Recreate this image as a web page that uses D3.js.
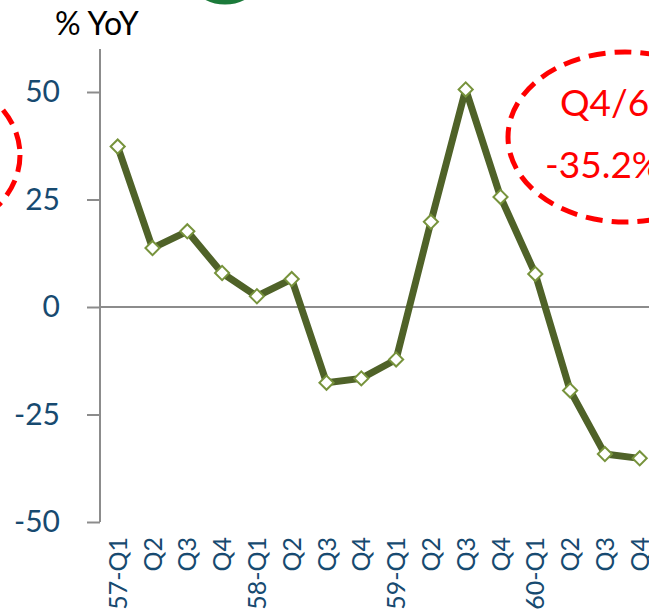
<!DOCTYPE html>
<html>
<head>
<meta charset="utf-8">
<script src="https://cdn.jsdelivr.net/npm/d3@7"></script>
<style>
  body { margin: 0; background: #fff; }
  svg { display: block; font-family: Lato, "DejaVu Sans", sans-serif; }
</style>
</head>
<body>
<div id="chart"></div>
<script>
const quarters = ['57-Q1', 'Q2', 'Q3', 'Q4', '58-Q1', 'Q2 ', 'Q3 ', 'Q4 ',
                  '59-Q1', 'Q2  ', 'Q3  ', 'Q4  ', '60-Q1', 'Q2   ', 'Q3   ', 'Q4   '];
const yoy = [37.3, 13.7, 17.6, 7.9, 2.5, 6.5, -17.6, -16.6,
             -12.2, 19.8, 50.6, 25.6, 7.7, -19.4, -34.2, -35.2];
const yTicks = [-50, -25, 0, 25, 50];
const calloutLines = ['Q4/60', '-35.2%'];

const width = 649, height = 611;

const svg = d3.select('#chart').append('svg')
  .attr('width', width)
  .attr('height', height);

const x = d3.scalePoint()
  .domain(quarters)
  .range([117.7, 639.7]);

const y = d3.scaleLinear()
  .domain([-50, 50])
  .range([522, 92]);

// green circle peeking in at the top
svg.append('ellipse')
  .attr('cx', 225).attr('cy', -42)
  .attr('rx', 42).attr('ry', 44)
  .attr('fill', 'none')
  .attr('stroke', '#1b7a3a')
  .attr('stroke-width', 5);

// y axis
const yAxis = svg.append('g')
  .attr('transform', 'translate(100,0)')
  .call(d3.axisLeft(y).tickValues(yTicks).tickFormat(d => String(d))
    .tickSize(13).tickPadding(27).tickSizeOuter(0));
yAxis.select('.domain').remove();
yAxis.selectAll('.tick line').attr('stroke', '#8c8c8c').attr('stroke-width', 2);
yAxis.selectAll('.tick text')
  .attr('fill', '#174a70')
  .style('font-size', '30px')
  .style('font-family', 'Lato, "DejaVu Sans", sans-serif');

svg.append('line')
  .attr('x1', 100).attr('x2', 100)
  .attr('y1', 49).attr('y2', y(-50))
  .attr('stroke', '#8c8c8c').attr('stroke-width', 2);

// zero line
svg.append('line')
  .attr('x1', 100).attr('x2', width)
  .attr('y1', y(0)).attr('y2', y(0))
  .attr('stroke', '#8c8c8c').attr('stroke-width', 2);

// x labels, rotated
svg.append('g').selectAll('text')
  .data(quarters)
  .join('text')
  .attr('transform', d => `translate(${x(d)},537) rotate(-90)`)
  .attr('text-anchor', 'end')
  .attr('dy', '0.36em')
  .attr('fill', '#174a70')
  .style('font-size', '25px')
  .text(d => d.trim());

// title
svg.append('text')
  .attr('x', 55).attr('y', 35)
  .attr('fill', '#000')
  .style('font-size', '32px')
  .text('% YoY');

// line
const line = d3.line()
  .x((d, i) => x(quarters[i]))
  .y(d => y(d));

svg.append('path')
  .datum(yoy)
  .attr('d', line)
  .attr('fill', 'none')
  .attr('stroke', '#4f6228')
  .attr('stroke-width', 7)
  .attr('stroke-linejoin', 'round');

svg.append('g').selectAll('path')
  .data(yoy)
  .join('path')
  .attr('d', d3.symbol(d3.symbolSquare, 100)())
  .attr('transform', (d, i) => `translate(${x(quarters[i])},${y(d)}) rotate(45)`)
  .attr('fill', '#fff')
  .attr('stroke', '#77933c')
  .attr('stroke-width', 2);

// red dashed callouts
svg.append('ellipse')
  .attr('cx', -92).attr('cy', 155)
  .attr('rx', 112).attr('ry', 85)
  .attr('fill', 'none')
  .attr('stroke', '#ff0000')
  .attr('stroke-width', 5)
  .attr('stroke-dasharray', '17 9');

svg.append('ellipse')
  .attr('cx', 625).attr('cy', 137)
  .attr('rx', 117).attr('ry', 85)
  .attr('fill', 'none')
  .attr('stroke', '#ff0000')
  .attr('stroke-width', 5)
  .attr('stroke-dasharray', '17 9');

svg.append('g').selectAll('text')
  .data(calloutLines)
  .join('text')
  .attr('x', (d, i) => i === 0 ? 560 : 545)
  .attr('y', (d, i) => i === 0 ? 116 : 178)
  .attr('fill', '#ff0000')
  .style('font-size', '37px')
  .text(d => d);
</script>
</body>
</html>
